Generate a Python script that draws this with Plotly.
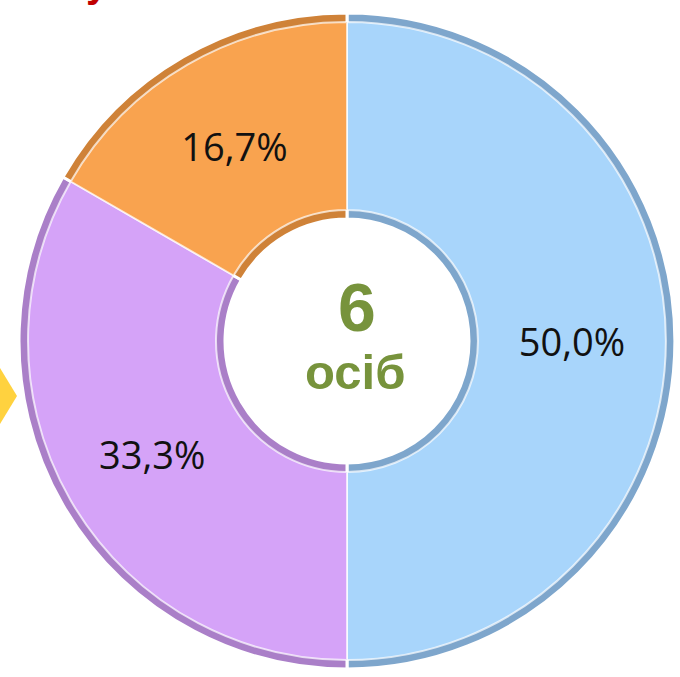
import plotly.graph_objects as go

categories = ["Група A", "Група B", "Група C"]
counts = [3, 2, 1]
colors = ["#a8d5fb", "#d5a3f8", "#f9a34f"]
edge_colors = ["#7ea6cc", "#aa7fc8", "#cf8238"]
center_number = "6"
center_label = "осіб"

W, H = 680, 677
cx, cy, R = 347, 341, 328
r_in = 122
bevel = 9

def px_x(x):
    return x / W

def px_y(y):
    return 1 - y / H

def dom(r):
    return dict(x=[px_x(cx - r), px_x(cx + r)], y=[px_y(cy + r), px_y(cy - r)])

fig = go.Figure()

# outer (edge/shadow) ring
fig.add_trace(go.Pie(
    labels=categories, values=counts, sort=False, direction="clockwise",
    rotation=0, hole=r_in / R,
    marker=dict(colors=edge_colors, line=dict(color="white", width=3)),
    textinfo="none", hoverinfo="skip", showlegend=False,
    domain=dom(R),
))

# face ring
r2 = R - bevel
fig.add_trace(go.Pie(
    labels=categories, values=counts, sort=False, direction="clockwise",
    rotation=0, hole=(r_in + bevel) / r2,
    marker=dict(colors=colors, line=dict(color="rgba(255,255,255,0.7)", width=2)),
    texttemplate="%{percent:.1%}", textposition="inside",
    insidetextorientation="horizontal",
    textfont=dict(family="Open Sans, Liberation Sans, Arial, sans-serif", size=38, color="#111111"),
    showlegend=False,
    domain=dom(r2),
))

fig.add_annotation(x=px_x(357), y=px_y(307), xref="paper", yref="paper",
                   text="<b>" + center_number + "</b>", showarrow=False,
                   font=dict(family="Liberation Sans, Arial, sans-serif", size=68, color="#77933c"))
fig.add_annotation(x=px_x(355), y=px_y(372), xref="paper", yref="paper",
                   text="<b>" + center_label + "</b>", showarrow=False,
                   font=dict(family="Liberation Sans, Arial, sans-serif", size=49, color="#77933c"))

# cut-off red title fragment at top
fig.add_annotation(x=px_x(84), y=px_y(7), xref="paper", yref="paper",
                   text="<b>у</b>", showarrow=False, yanchor="bottom",
                   font=dict(family="Liberation Sans, Arial, sans-serif", size=40, color="#c00000"))

# yellow arrow marker at left edge
fig.add_shape(type="path", xref="paper", yref="paper",
              path=f"M 0 {px_y(368)} L {px_x(17)} {px_y(396)} L 0 {px_y(424)} Z",
              fillcolor="#ffd23f", line=dict(width=0))

fig.update_layout(
    width=W, height=H, margin=dict(l=0, r=0, t=0, b=0),
    paper_bgcolor="white", plot_bgcolor="white",
    separators=", ",
)

fig.write_html("out.html", config={"displayModeBar": False},
               post_script="document.body.style.margin='0';")
